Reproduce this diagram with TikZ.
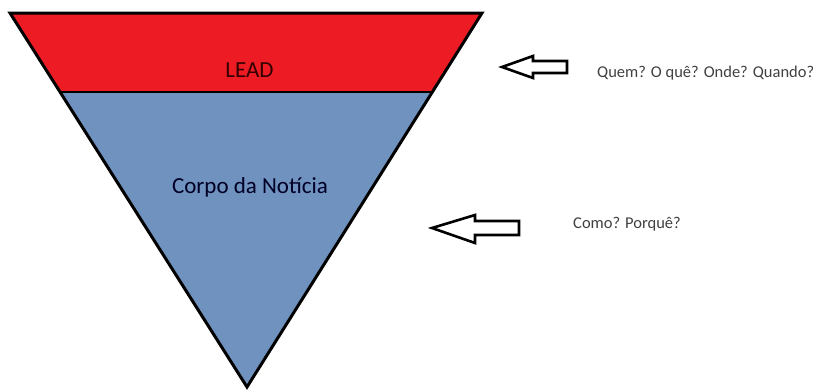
\documentclass[tikz,border=0pt]{standalone}
\usepackage{fontspec}
\setmainfont{Carlito}
\definecolor{leadred}{RGB}{237,28,36}
\definecolor{corpoblue}{RGB}{112,146,190}

\begin{document}
\begin{tikzpicture}[x=1pt,y=-1pt,
		edge/.style={line width=3pt,line join=miter},
		hollowarrow/.style={draw=black,fill=white,line width=2.6pt,line join=miter},
		big/.style={font=\fontsize{23}{27}\selectfont,inner sep=0pt},
		small/.style={font=\fontsize{16.5}{20}\selectfont,inner sep=0pt,text=black!75}]
		\useasboundingbox (0,0) rectangle (813,389);
				% triangle corners
				\coordinate (tl) at (10,13);
				\coordinate (tr) at (482,13);
				\coordinate (apex) at (247,387);
				\coordinate (sl) at (60,92);
				\coordinate (sr) at (432.5,92);
				\filldraw[fill=corpoblue,draw=none] (sl) -- (sr) -- (apex) -- cycle;
				\filldraw[fill=leadred,draw=none] (tl) -- (tr) -- (sr) -- (sl) -- cycle;
				\draw[black,line width=2.6pt] (sl) -- (sr);
				\draw[edge] (tl) -- (tr) -- (apex) -- cycle;
				\node[big,anchor=base,text=black!80!red] (lead) at (249.5,77) {LEAD};
				\node[big,anchor=base,text=black!85!blue] (corpo) at (250,193) {Corpo da Notícia};
				% arrows
				\draw[hollowarrow] (502,67) -- (533,56) -- (533,61) -- (567,61) -- (567,73) -- (533,73) -- (533,78) -- cycle;
				\draw[hollowarrow] (432,228) -- (475,215) -- (475,221) -- (519,221) -- (519,235) -- (475,235) -- (475,243) -- cycle;
				\node[small,anchor=base west] (quem) at (597,77) {Quem? O quê? Onde? Quando?};
				\node[small,anchor=base west] (como) at (573,228) {Como? Porquê?};
		\end{tikzpicture}
\end{document}
